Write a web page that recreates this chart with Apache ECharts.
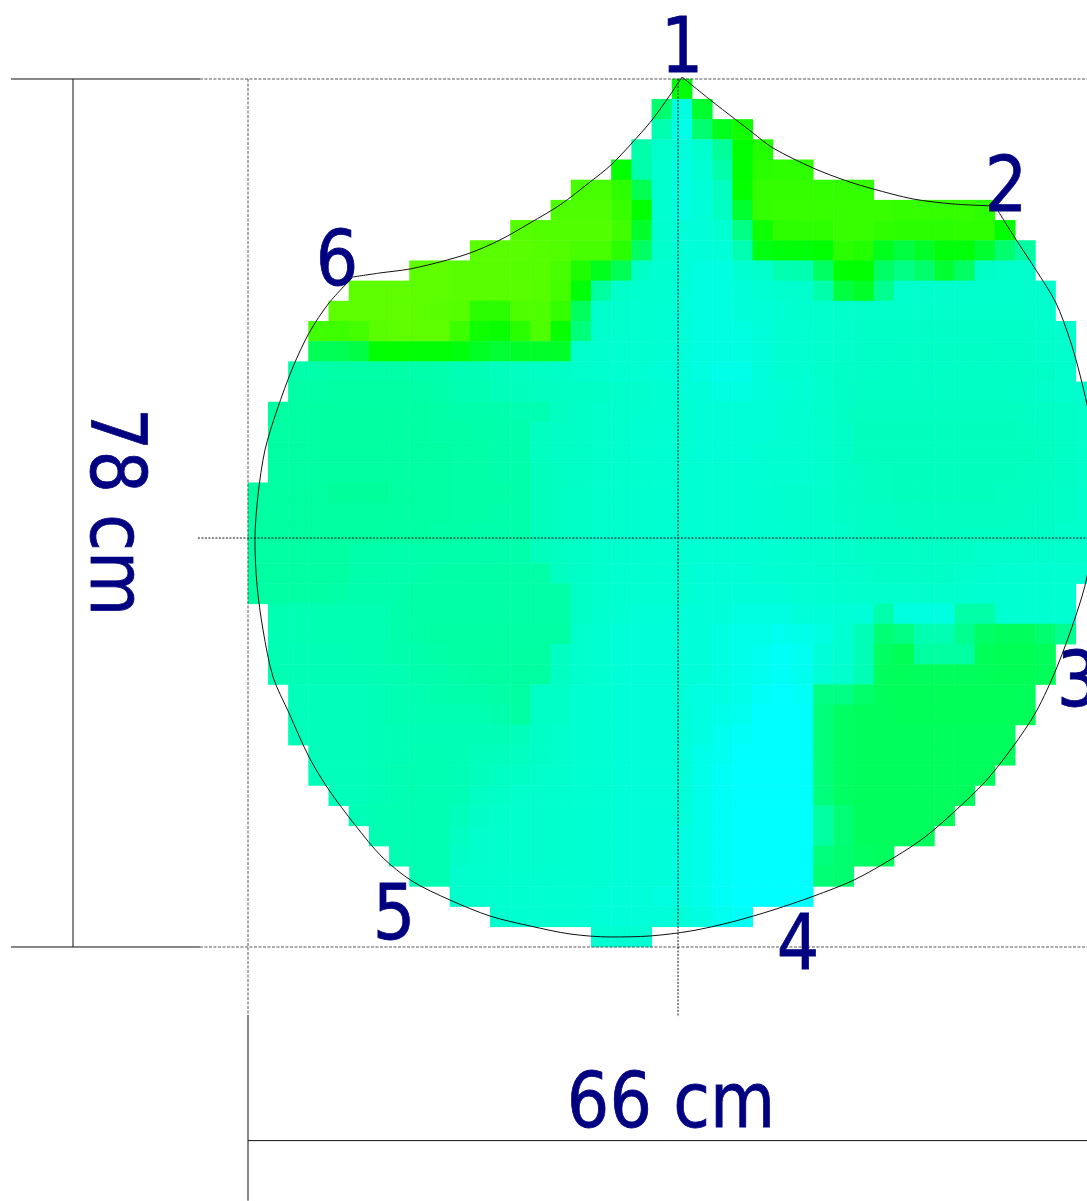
<!DOCTYPE html>
<html><head><meta charset="utf-8">
<style>html,body{margin:0;padding:0;background:#fff;overflow:hidden;width:1087px;height:1201px}#c{width:1100px;height:1201px}</style>
<script src="https://cdn.jsdelivr.net/npm/echarts@6/dist/echarts.min.js"></script>
</head><body><div id="c"></div>
<script>
// Cell values are colour-scale readings (60 yellow, 120 green, 180 cyan). Each row begins at rowStart[i].
const rowStart=[21,20,20,19,18,16,15,13,11,8,5,4,3,3,2,2,1,1,1,1,0,0,0,0,0,0,1,1,1,1,2,2,2,3,3,4,5,6,7,8,10,12,17];
const row00=[122];
const row01=[146,176,131];
const row02=[160,177,146,127,116];
const row03=[158,169,175,171,154,120,112];
const row04=[120,158,171,176,173,158,120,110,109,109];
const row05=[103,103,109,139,171,176,174,165,119,108,108,108,108,108,108];
const row06=[102,102,102,107,120,172,176,175,166,131,108,107,107,107,107,107,107,108,108,108,108,109];
const row07=[100,101,101,101,101,105,130,171,175,175,172,150,117,109,109,109,107,107,109,110,110,110,109,109,120];
const row08=[99,99,99,100,101,103,103,110,143,170,174,175,174,160,124,122,122,120,110,112,127,135,129,122,122,131,146,155];
const row09=[98,98,99,99,99,100,100,103,113,127,140,168,172,175,176,176,172,170,160,160,143,120,120,143,150,145,132,143,168,169,170];
const row10=[98,98,98,98,98,99,99,99,99,100,104,122,155,169,171,172,175,176,176,175,173,171,170,158,135,129,152,170,170,170,170,170,170,170,171];
const row11=[98,98,98,98,98,99,100,110,110,102,102,108,142,170,171,172,173,175,176,176,175,174,172,171,170,169,169,169,169,169,169,169,169,169,169,170];
const row12=[105,106,104,99,98,98,98,106,117,118,110,102,118,148,170,171,172,173,175,176,176,176,175,173,172,170,169,168,168,168,168,168,168,168,168,168,169,170];
const row13=[140,140,136,120,120,121,121,123,128,132,130,130,129,170,171,172,172,173,175,176,176,176,175,173,172,170,169,168,168,167,167,167,167,167,168,168,169,170];
const row14=[158,158,157,157,157,157,158,159,162,162,164,165,166,168,170,171,172,173,174,175,176,177,177,175,173,172,169,168,168,167,167,167,167,167,167,167,167,168,170];
const row15=[157,157,156,156,156,156,157,158,160,161,163,164,165,166,167,168,169,170,172,174,175,176,176,175,174,173,170,168,166,166,166,166,166,166,166,167,168,169,170,171];
const row16=[156,156,155,155,155,155,155,156,157,158,158,159,160,161,165,168,169,170,171,172,173,174,174,174,174,173,172,169,167,165,165,165,165,165,165,165,165,166,167,168,169];
const row17=[156,156,155,155,155,155,155,156,157,157,158,158,159,165,167,168,169,170,172,173,173,174,174,174,174,173,172,170,167,164,164,164,164,164,164,164,164,165,166,168,169];
const row18=[156,156,155,155,155,155,155,156,156,157,157,158,158,165,167,168,169,170,172,173,173,174,174,174,173,172,172,170,167,164,164,164,164,164,164,164,164,164,165,167,169];
const row19=[156,156,155,155,155,155,155,156,156,157,157,158,158,164,166,168,169,170,171,172,173,173,173,173,173,172,172,170,168,166,165,164,164,164,164,164,164,165,165,167,169];
const row20=[155,155,155,155,154,154,154,155,155,156,157,157,157,158,164,166,168,170,171,171,172,172,173,173,173,172,171,170,169,167,166,165,164,164,164,164,164,165,165,166,168,170];
const row21=[155,155,155,155,155,155,155,155,156,156,157,157,158,158,164,166,168,170,171,171,172,172,173,173,173,172,171,170,169,168,167,166,165,165,165,165,165,165,166,167,168,170];
const row22=[155,155,155,155,155,155,155,156,156,157,157,158,158,158,164,166,168,170,171,171,172,172,173,173,173,172,172,171,170,169,167,166,166,165,165,166,166,166,167,168,169,170];
const row23=[155,156,156,156,156,158,158,158,158,158,158,158,158,158,164,166,168,170,171,171,172,172,173,173,173,173,172,171,170,169,168,167,167,167,167,168,170,170,170,170,170,171];
const row24=[155,156,156,156,156,158,158,158,158,157,157,157,157,157,157,165,168,170,172,172,173,173,174,174,174,173,173,172,171,170,169,168,168,168,168,169,171,172,172,172,172,172];
const row25=[155,156,156,156,157,159,159,158,157,157,157,157,157,157,157,157,168,170,172,173,173,173,174,174,175,175,174,173,172,171,170,170,170,170,170,171,172,172,172,172,172];
const row26=[160,161,161,161,161,160,158,157,157,157,157,157,157,157,157,168,171,173,174,174,174,175,175,176,176,176,175,175,174,175,158,176,176,176,157,157,172,172,172,172];
const row27=[161,161,161,161,160,160,158,157,156,156,156,156,156,156,156,169,172,174,175,175,175,175,176,177,177,178,177,176,172,162,147,150,160,160,152,144,142,142,146,152];
const row28=[161,162,162,162,161,160,159,158,157,156,155,155,155,155,166,169,172,174,175,175,175,175,176,177,178,179,178,175,172,162,143,140,155,155,155,141,140,140,141];
const row29=[161,162,162,162,162,161,160,159,158,157,156,155,155,155,166,169,172,174,175,175,175,175,176,177,178,179,178,174,170,162,142,141,142,142,142,141,140,140,141];
const row30=[163,163,163,163,162,161,160,159,158,158,157,155,167,168,172,173,174,175,175,175,176,176,177,179,180,179,150,150,145,142,141,141,141,141,141,141,141];
const row31=[163,163,163,163,162,161,161,160,160,160,159,155,167,168,172,173,174,175,175,175,176,177,178,180,180,180,148,143,142,142,141,141,141,141,141,141,141];
const row32=[163,163,163,163,162,162,162,162,162,162,162,163,168,169,172,173,174,175,175,175,176,178,179,180,180,180,148,143,142,142,142,142,142,142,142,142];
const row33=[163,163,163,162,162,161,161,162,163,164,165,168,170,172,173,174,175,175,175,177,178,180,180,180,180,148,143,142,142,142,142,142,142,142,142];
const row34=[163,163,163,162,161,160,160,162,164,166,167,169,170,172,173,174,175,175,175,177,179,180,180,180,180,148,143,142,142,142,142,142,142,142];
const row35=[163,163,162,161,160,160,162,166,168,169,170,171,172,173,174,175,175,175,177,179,180,180,180,180,148,143,142,142,142,142,142,142];
const row36=[162,161,160,160,160,164,168,169,170,170,171,172,173,174,175,175,175,177,179,180,180,180,180,155,147,142,142,142,142,142];
const row37=[161,160,160,160,166,169,170,170,170,171,172,173,174,175,175,176,177,179,180,180,180,180,155,147,142,142,142,142];
const row38=[160,160,160,168,170,170,170,170,171,172,173,174,175,175,176,177,179,180,180,180,180,148,146,143,142];
const row39=[160,160,170,170,171,171,171,172,172,173,174,175,175,176,177,179,180,180,180,180,147,146];
const row40=[170,171,171,171,172,172,173,174,175,175,176,176,177,179,180,180,180,180];
const row41=[171,172,172,172,173,174,175,175,175,175,176,178,179];
const row42=[172,172,172];
const rows=[row00,row01,row02,row03,row04,row05,row06,row07,row08,row09,row10,row11,row12,row13,row14,row15,row16,row17,row18,row19,row20,row21,row22,row23,row24,row25,row26,row27,row28,row29,row30,row31,row32,row33,row34,row35,row36,row37,row38,row39,row40,row41,row42];
// Colour ramp stops from 60 to 180 in steps of 5
const rampColors=['#ffff00','#eaff00','#d4ff00','#bfff00','#aaff00','#95ff00','#80ff00','#6aff00','#55ff00','#40ff00','#2aff00','#15ff00','#00ff00','#00ff15','#00ff2a','#00ff40','#00ff55','#00ff6a','#00ff84','#00ffa0','#00ffb0','#00ffc0','#00ffcc','#00ffd8','#00ffff'];

// Outline in cm, reading clockwise from point 1
const outlineA=[[33.78,-0.18],[36.19,2.07],[39.31,4.85],[40.86,6.20],[43.98,8.00],[46.62,9.17],[48.65,9.88],[51.76,10.78],[54.87,11.23],[58.14,11.41]];
const outlineB=[[58.14,11.41],[59.70,14.29],[61.33,17.16],[62.89,20.13],[63.98,23.45],[64.76,26.60],[65.53,30.64],[65.92,36.03],[65.77,40.53],[65.30,44.75],[64.45,48.17],[62.97,52.84],[61.33,56.88],[59.46,60.12],[57.36,63.17],[55.03,65.78],[52.69,68.12],[50.36,69.91],[47.17,71.98],[44.05,73.42],[40.86,74.68],[37.67,75.75],[34.48,76.56],[31.29,77.01],[28.18,77.10],[25.06,76.83],[21.95,76.11],[18.84,75.22],[15.72,73.78],[12.76,72.07],[10.43,69.91],[8.33,67.03],[6.30,63.89],[4.75,60.93],[3.19,56.97],[1.95,53.74],[1.17,49.51],[0.70,45.47],[0.54,41.43],[0.78,37.38],[1.32,33.34],[2.26,29.74],[3.50,25.88],[4.75,22.83],[6.30,20.13],[8.17,17.79]];
const outlineC=[[8.17,17.79],[10.27,17.43],[12.61,17.07],[14.94,16.44],[17.28,15.64],[19.61,14.47],[21.95,12.94],[24.28,11.32],[26.62,9.26],[28.25,7.73],[29.81,5.85],[31.45,3.68],[32.85,1.44],[33.78,-0.18]];

// Guide lines in cm
const guideSolid=[[[-18.45,0],[-3.74,0]],[[-18.45,78],[-3.74,78]],[[0,84.1],[0,100.8]],[[-13.62,0],[-13.62,78]],[[0,95.4],[66,95.4]]];
const guideDashed=[[[-3.74,0],[66,0]],[[-3.74,78],[66,78]],[[0,0],[0,84.1]]];
const guideDotted=[[[33.47,0],[33.47,84.3]],[[-3.9,41.25],[66,41.25]]];

const xCats=Array.from({length:42},(_,i)=>i);
const yCats=rows.map((_,i)=>i);
const cells=[];
rows.forEach((r,y)=>r.forEach((v,k)=>cells.push([rowStart[y]+k,y,v])));

const textBase={fontFamily:'"DejaVu Sans"',fontSize:76,fill:'#000080',stroke:'#000080',lineWidth:0.8,textAlign:'center',textVerticalAlign:'middle'};
function label(t,x,y,rot){return {type:'text',x,y,rotation:rot||0,scaleX:0.88,z:50,silent:true,style:Object.assign({text:t},textBase)};}

function lineSeries(data,type,smooth,z){return {type:'line',xAxisIndex:1,yAxisIndex:1,data,clip:false,showSymbol:false,symbol:'none',silent:true,smooth:smooth?0.3:false,z:z||20,animation:false,
  lineStyle:{color:type==='dashed'?'#555':'#111',width:1,type:type==='dotted'?[2,1.5]:(type==='dashed'?[3,1.5]:'solid')}};}

const chart=echarts.init(document.getElementById('c'),null,{renderer:'canvas'});
chart.setOption({
  animation:false,backgroundColor:'#fff',
  grid:[{left:248,top:79,width:848,height:868},{left:0,top:0,width:1100,height:1201}],
  xAxis:[{type:'category',data:xCats,show:false,gridIndex:0},{type:'value',min:-19.303,max:66.314,show:false,gridIndex:1}],
  yAxis:[{type:'category',data:yCats,inverse:true,show:false,gridIndex:0},{type:'value',min:-7.099,max:100.826,inverse:true,show:false,gridIndex:1}],
  visualMap:{show:false,type:'continuous',min:60,max:180,seriesIndex:0,inRange:{color:rampColors}},
  series:[
    {type:'heatmap',data:cells,xAxisIndex:0,yAxisIndex:0,itemStyle:{borderWidth:0},silent:true,progressive:0,animation:false},
    lineSeries(outlineA,'solid',true,22),lineSeries(outlineB,'solid',true,22),lineSeries(outlineC,'solid',true,22),
    ...guideSolid.map(d=>lineSeries(d,'solid')),
    ...guideDashed.map(d=>lineSeries(d,'dashed')),
    ...guideDotted.map(d=>lineSeries(d,'dotted'))
  ],
  graphic:[
    label('1',682,52),label('2',1006,191),label('3',1078,686),label('4',798,949),label('5',394,919),label('6',337,265),
    label('66 cm',671,1107),label('78 cm',111,512,-Math.PI/2)
  ]
});
</script></body></html>
